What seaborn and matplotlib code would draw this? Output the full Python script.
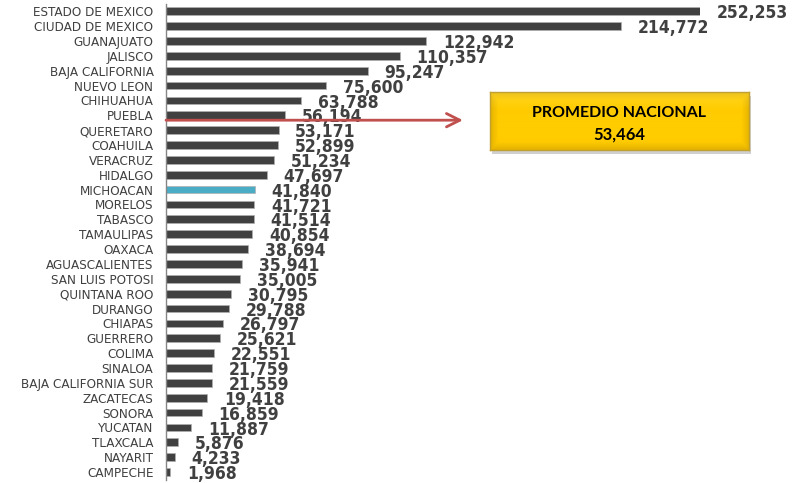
import numpy as np
import pandas as pd

import matplotlib.pyplot as plt
import matplotlib.transforms as mtransforms
from matplotlib.ticker import FixedLocator
import seaborn as sns

STATES = [
  'ESTADO DE MEXICO', 'CIUDAD DE MEXICO', 'GUANAJUATO', 'JALISCO', 'BAJA CALIFORNIA',
  'NUEVO LEON', 'CHIHUAHUA', 'PUEBLA', 'QUERETARO', 'COAHUILA', 'VERACRUZ', 'HIDALGO',
  'MICHOACAN', 'MORELOS', 'TABASCO', 'TAMAULIPAS', 'OAXACA', 'AGUASCALIENTES',
  'SAN LUIS POTOSI', 'QUINTANA ROO', 'DURANGO', 'CHIAPAS', 'GUERRERO', 'COLIMA',
  'SINALOA', 'BAJA CALIFORNIA SUR', 'ZACATECAS', 'SONORA', 'YUCATAN', 'TLAXCALA',
  'NAYARIT', 'CAMPECHE',
]
VALUES = [
  252253, 214772, 122942, 110357, 95247, 75600, 63788, 56194, 53171, 52899, 51234,
  47697, 41840, 41721, 41514, 40854, 38694, 35941, 35005, 30795, 29788, 26797,
  25621, 22551, 21759, 21559, 19418, 16859, 11887, 5876, 4233, 1968,
]
HIGHLIGHT = 'MICHOACAN'
PROMEDIO = 53464

BAR_COLOR = '#404040'
HIGHLIGHT_COLOR = '#4BACC6'
TEXT_COLOR = '#404040'


def plot_states():
  sns.set_style('white')
  plt.rcParams['font.family'] = ['DejaVu Sans']
  df = pd.DataFrame({'estado': STATES, 'valor': VALUES})
  palette = {s: (HIGHLIGHT_COLOR if s == HIGHLIGHT else BAR_COLOR) for s in STATES}

  fig = plt.figure(figsize=(7.96, 4.83), dpi=100)
  ax = fig.add_axes([166 / 796, 1 - 479.5 / 483, 534 / 796, 475.7 / 483])

  sns.barplot(
    df, y='estado', x='valor', hue='estado', palette=palette,
    orient='h', width=0.52, legend=False, saturation=1, ax=ax,
    edgecolor='#b0b0b0', linewidth=0.5,
  )
  ax.set_xlim(0, max(VALUES))
  ax.set_ylim(len(STATES) - 0.5, -0.5)
  ax.set_xlabel('')
  ax.set_ylabel('')
  ax.set_xticks([])

  for side in ['top', 'right', 'bottom']:
    ax.spines[side].set_visible(False)
  ax.spines['left'].set_color('#868686')
  ax.spines['left'].set_linewidth(1)

  ax.tick_params(axis='y', which='major', length=0, pad=9)
  for lab in ax.get_yticklabels():
    lab.set_fontsize(9.6)
    lab.set_fontstretch('condensed')
    lab.set_color(TEXT_COLOR)
  ax.yaxis.set_minor_locator(FixedLocator(np.arange(-0.5, len(STATES), 1)))
  ax.tick_params(axis='y', which='minor', length=4, width=1, color='#868686',
                 direction='out')

  for i, v in enumerate(VALUES):
    ax.annotate(
      f'{v:,}', xy=(v, i), xytext=(12, -1.5), textcoords='offset points',
      ha='left', va='center', fontsize=12.5, fontweight='bold',
      fontstretch='condensed', color=TEXT_COLOR, annotation_clip=False,
    )

  # flecha del promedio nacional
  trans = mtransforms.blended_transform_factory(ax.transAxes, ax.transData)
  ax.annotate(
    '', xy=(0.556, 7.33), xytext=(0, 7.33), xycoords=trans, textcoords=trans,
    arrowprops=dict(arrowstyle='->', color='#C0504D', lw=2,
                    mutation_scale=24, shrinkA=0, shrinkB=0),
    annotation_clip=False,
  )

  # recuadro amarillo con sombra
  x0, y0, w, h = 490, 92, 259, 58
  shadow = fig.add_axes([(x0 + 2) / 796, 1 - (y0 + h + 4) / 483, w / 796, h / 483])
  shadow.set_facecolor('#d0d0d0')
  shadow.set_xticks([])
  shadow.set_yticks([])
  for s in shadow.spines.values():
    s.set_visible(False)

  box = fig.add_axes([x0 / 796, 1 - (y0 + h) / 483, w / 796, h / 483])
  yy = np.linspace(0, 1, 60)[:, None]
  xx = np.linspace(0, 1, 260)[None, :]
  base = np.array([1.0, 0.80, 0.0])
  edge = np.minimum(np.minimum(xx, 1 - xx) * 259, np.minimum(yy, 1 - yy) * 58)
  shade = np.clip(edge / 8, 0, 1)
  dark = np.array([0.90, 0.70, 0.0])
  img = dark + (base - dark) * shade[..., None]
  light = np.clip(1 - yy / 0.3, 0, 1)[..., None] * 0.25
  img = img + (np.array([1.0, 0.95, 0.5]) - img) * light
  box.imshow(np.clip(img, 0, 1), aspect='auto', extent=(0, 1, 0, 1), origin='upper')
  box.set_xlim(0, 1)
  box.set_ylim(0, 1)
  box.set_xticks([])
  box.set_yticks([])
  for s in box.spines.values():
    s.set_color('#bfa030')
    s.set_linewidth(1)
  box.text(0.5, 0.64, 'PROMEDIO NACIONAL', ha='center', va='center',
           fontsize=11.5, fontweight='bold', family='Lato', color='black')
  box.text(0.5, 0.26, f'{PROMEDIO:,}', ha='center', va='center',
           fontsize=12, fontweight='bold', family='Lato', color='black')

  fig.savefig('out.png', dpi=100)


if __name__ == '__main__':
  plot_states()
